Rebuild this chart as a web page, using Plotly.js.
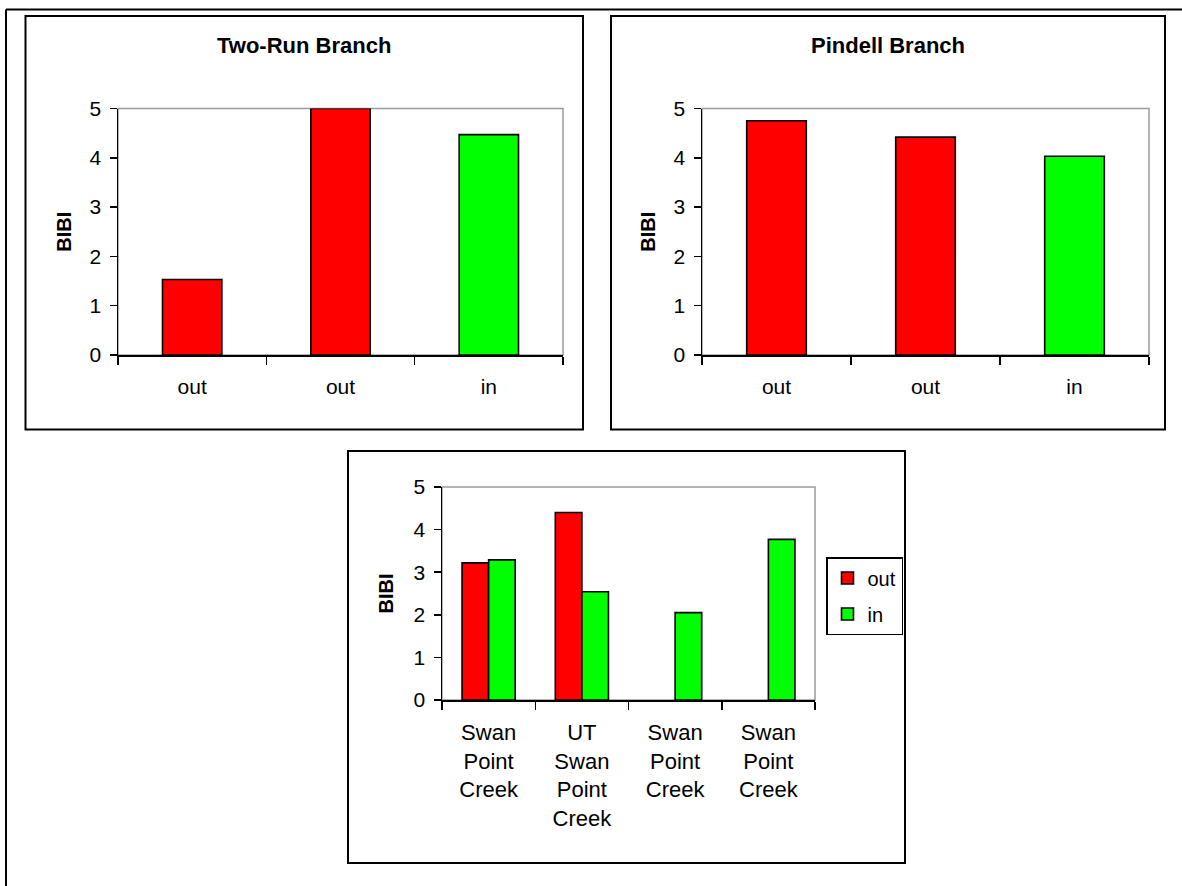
<!DOCTYPE html>
<html>
<head>
<meta charset="utf-8">
<script src="https://cdn.plot.ly/plotly-3.0.1.min.js"></script>
<style>
  html, body { margin: 0; padding: 0; background: #fff; }
  #chart { width: 1182px; height: 886px; }
</style>
</head>
<body>
<div id="chart"></div>
<script>
// ---- data ----
const twoRunTitle = 'Two-Run Branch';
const twoRunCats = ['out', 'out', 'in'];
const twoRunVals = [1.53, 5.0, 4.47];

const pindellTitle = 'Pindell Branch';
const pindellCats = ['out', 'out', 'in'];
const pindellVals = [4.75, 4.42, 4.03];

const swanCats = ['Swan Point Creek', 'UT Swan Point Creek', 'Swan Point Creek', 'Swan Point Creek'];
const swanOut = [3.22, 4.40, null, null];
const swanIn = [3.29, 2.54, 2.05, 3.77];

const yTicks = [0, 1, 2, 3, 4, 5];
const yTitle = 'BIBI';
const seriesNames = ['out', 'in'];

// ---- styling ----
const RED = '#ff0000', GREEN = '#00ff00';
const FONT = 'Liberation Sans, Arial, sans-serif';
const W = 1182, H = 886;
const px = v => v / W;
const py = v => 1 - v / H;

function colorFor(c) { return c === 'out' ? RED : GREEN; }
function idx(arr) { return arr.map((_, i) => i); }
function bounds(arr) { const b = arr.map((_, i) => i - 0.5); b.push(arr.length - 0.5); return b; }

const barLine = { color: '#000', width: 1.6 };

const traces = [
  { type: 'bar', x: idx(twoRunCats), y: twoRunVals, width: 0.4, xaxis: 'x', yaxis: 'y',
    marker: { color: twoRunCats.map(colorFor), line: barLine }, showlegend: false, hoverinfo: 'y' },
  { type: 'bar', x: idx(pindellCats), y: pindellVals, width: 0.4, xaxis: 'x2', yaxis: 'y2',
    marker: { color: pindellCats.map(colorFor), line: barLine }, showlegend: false, hoverinfo: 'y' },
  { type: 'bar', name: seriesNames[0], legendgroup: 'g1', x: idx(swanCats), y: swanOut, xaxis: 'x3', yaxis: 'y3',
    marker: { color: RED, line: barLine } },
  { type: 'bar', name: seriesNames[1], legendgroup: 'g2', x: idx(swanCats), y: swanIn, xaxis: 'x3', yaxis: 'y3',
    marker: { color: GREEN, line: barLine } }
];

function xAxis(cats, domain, anchor, size) {
  return {
    domain: domain, anchor: anchor, range: [-0.5, cats.length - 0.5],
    tickmode: 'array', tickvals: idx(cats), ticktext: cats.map(c => c.split(' ').join('<br>')),
    ticks: '', showline: true, linecolor: '#000', linewidth: 1.5,
    showgrid: false, zeroline: false, fixedrange: true,
    tickfont: { family: FONT, size: size, color: '#000' }, ticklabelstandoff: 12,
    minor: { tickmode: 'array', tickvals: bounds(cats), ticks: 'outside', ticklen: 8, tickcolor: '#000', tickwidth: 1.5, showgrid: false }
  };
}
function yAxis(domain, anchor, standoff) {
  return {
    domain: domain, anchor: anchor, range: [0, 5], tickmode: 'array', tickvals: yTicks,
    ticks: 'outside', ticklen: 7, tickcolor: '#000', tickwidth: 1.5,
    showline: true, linecolor: '#000', linewidth: 1.5, showgrid: false, zeroline: false, fixedrange: true,
    tickfont: { family: FONT, size: 21, color: '#000' }, ticklabelstandoff: 4,
    title: { text: yTitle, font: { family: FONT, size: 20, color: '#000', weight: 'bold' }, standoff: standoff }
  };
}

const topY = [py(355), py(108.5)];
const botY = [py(700), py(487)];

function border(xa, ya) {
  return { type: 'rect', xref: xa + ' domain', yref: ya + ' domain', x0: 0, x1: 1, y0: 0, y1: 1,
           line: { color: '#9a9a9a', width: 1.5 }, layer: 'below' };
}
function box(x0, y0, x1, y1) {
  return { type: 'rect', xref: 'paper', yref: 'paper', x0: px(x0), x1: px(x1), y0: py(y1), y1: py(y0),
           line: { color: '#000', width: 2 }, layer: 'below' };
}

const layout = {
  width: W, height: H, margin: { l: 0, r: 0, t: 0, b: 0 },
  paper_bgcolor: '#fff', plot_bgcolor: 'rgba(0,0,0,0)',
  font: { family: FONT, color: '#000' },
  barmode: 'group', bargap: 0.43, bargroupgap: 0,
  xaxis: xAxis(twoRunCats, [px(118), px(563)], 'y', 21),
  yaxis: yAxis(topY, 'x', 12),
  xaxis2: xAxis(pindellCats, [px(702), px(1149)], 'y2', 21),
  yaxis2: yAxis(topY, 'x2', 12),
  xaxis3: xAxis(swanCats, [px(442), px(815)], 'y3', 22),
  yaxis3: yAxis(botY, 'x3', 14),
  showlegend: true,
  legend: { x: px(826), y: py(557), xanchor: 'left', yanchor: 'top',
            bordercolor: '#000', borderwidth: 1.5, bgcolor: '#fff', traceorder: 'grouped', tracegroupgap: 7,
            font: { family: FONT, size: 20, color: '#000' }, itemwidth: 30 },
  annotations: [
    { text: '<b>' + twoRunTitle + '</b>', xref: 'paper', yref: 'paper', x: px(304), y: py(45),
      showarrow: false, font: { family: FONT, size: 22, color: '#000' }, xanchor: 'center', yanchor: 'middle' },
    { text: '<b>' + pindellTitle + '</b>', xref: 'paper', yref: 'paper', x: px(888), y: py(45),
      showarrow: false, font: { family: FONT, size: 22, color: '#000' }, xanchor: 'center', yanchor: 'middle' }
  ],
  shapes: [
    { type: 'line', xref: 'paper', yref: 'paper', x0: px(6), x1: 1, y0: py(9.5), y1: py(9.5), line: { color: '#000', width: 2 } },
    { type: 'line', xref: 'paper', yref: 'paper', x0: px(6), x1: px(6), y0: py(9.5), y1: 0, line: { color: '#000', width: 2 } },
    box(25.5, 16, 583, 429.5),
    box(611, 16, 1165, 429.5),
    box(348, 451, 905, 863),
    border('x', 'y'), border('x2', 'y2'), border('x3', 'y3')
  ]
};

Plotly.newPlot('chart', traces, layout, { displayModeBar: false, staticPlot: true });
</script>
</body>
</html>
